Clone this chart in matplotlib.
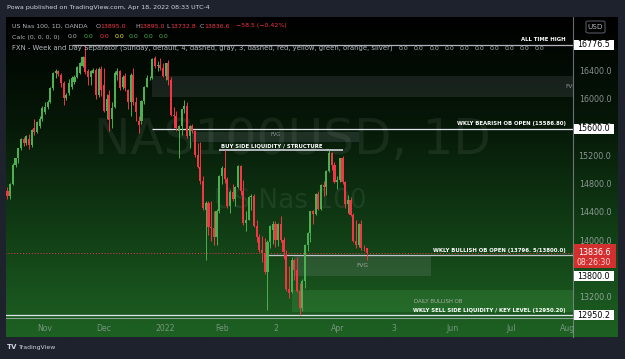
import numpy as np
import pandas as pd
import matplotlib
matplotlib.use("Agg")
import matplotlib.pyplot as plt
from matplotlib.patches import Rectangle, FancyBboxPatch
from matplotlib.lines import Line2D
from matplotlib.colors import LinearSegmentedColormap
from matplotlib import transforms

# ---------------- data ----------------
dates = pd.bdate_range("2021-10-12", "2022-04-18")

opens = [
    14705, 14630, 14800, 15080, 15170, 15310, 15440, 15380, 15440, 15350, 15600, 15540, 15630, 15720,
    15830, 15900, 15970, 16160, 16375, 16400, 16350, 16230, 16020, 16090, 16170, 16250, 16320, 16380, 16480, 16600, 16400, 16320, 16380, 16420, 16060, 16430,
    16200, 15840, 16060, 15720, 15900, 16350, 16400, 16180, 16330, 16130, 15960, 16350, 15960, 15700, 15700, 15980, 16180, 16300, 16310, 16580, 16470, 16490, 16450,
    16330, 16510, 16280, 15780, 15770, 15560, 15620, 15860, 15910, 15490, 15620, 15560, 15210, 15050, 14850, 14440, 14540, 14200, 14190, 14050, 14430,
    14920, 15030, 14870, 14500, 14690, 14590, 14760, 15060, 14710, 14260, 14300, 14620, 14640, 14210, 14060, 13880, 13830, 13560, 13990, 14150,
    14240, 14010, 14240, 14020, 13800, 13320, 13280, 13730, 13590, 13300, 13050, 13440, 13950, 14120, 14420, 14380, 14660, 14450, 14790, 14760, 14990, 15240, 15080,
    14840, 14860, 15170, 14840, 14520, 14580, 14370, 14000, 13950, 14240, 13900, 13895.0,
]
highs = [
    14770, 14820, 15100, 15180, 15320, 15450, 15470, 15500, 15510, 15590, 15720, 15700, 15760, 15910,
    15960, 16000, 16180, 16390, 16430, 16420, 16380, 16260, 16090, 16290, 16330, 16340, 16470, 16530, 16620, 16776.5, 16430, 16420, 16440, 16440, 16460, 16480,
    16450, 16080, 16140, 15970, 16400, 16440, 16420, 16340, 16380, 16150, 16370, 16440, 16030, 15760, 15990, 16190, 16340, 16330, 16580, 16620, 16540, 16580, 16510,
    16520, 16560, 16320, 15900, 15840, 15640, 15870, 15990, 15970, 15640, 15650, 15570, 15380, 15400, 14920, 14560, 14560, 14570, 14430, 14450, 14940,
    15060, 15290, 14900, 14720, 14800, 14780, 15080, 15070, 14860, 14420, 14640, 14660, 14660, 14300, 14100, 14070, 14040, 14010, 14230, 14280,
    14280, 14260, 14360, 14060, 13880, 13640, 13770, 13740, 13780, 13410, 13460, 13960, 14130, 14430, 14440, 14680, 14700, 14800, 14850, 15000, 15285, 15260, 15120,
    14920, 15180, 15200, 14850, 14650, 14620, 14390, 14290, 14260, 14290, 13950, 13895.0,
]
lows = [
    14590, 14600, 14790, 15040, 15100, 15290, 15340, 15350, 15300, 15330, 15500, 15520, 15600, 15700,
    15800, 15870, 15950, 16140, 16300, 16330, 16180, 15920, 15990, 16070, 16150, 16220, 16300, 16360, 16460, 16360, 16200, 16200, 16370, 16010, 16040, 16050,
    15830, 15730, 15560, 15600, 15880, 16280, 16140, 16150, 16120, 15870, 15770, 15920, 15690, 15530, 15650, 15940, 16170, 16280, 16290, 16450, 16400, 16420, 16320,
    16270, 16200, 15760, 15600, 15560, 15170, 15500, 15810, 15460, 15320, 15520, 15190, 15030, 14800, 14440, 13730, 14080, 14000, 13950, 13940, 14400,
    14800, 14820, 14470, 14400, 14570, 14500, 14750, 14650, 14220, 14140, 14290, 14440, 14200, 13980, 13850, 13710, 13540, 13025, 13900, 13960,
    13920, 13930, 13990, 13740, 13290, 13200, 13260, 13450, 13280, 12950, 13010, 13340, 13860, 13980, 14240, 14370, 14440, 14440, 14640, 14650, 14980, 15010, 14820,
    14730, 14840, 14810, 14470, 14390, 14360, 13990, 13900, 13920, 13880, 13860, 13732.8,
]
closes = [
    14630, 14800, 15080, 15170, 15310, 15440, 15380, 15480, 15350, 15570, 15540, 15680, 15720, 15880,
    15900, 15970, 16160, 16375, 16400, 16360, 16230, 16020, 16060, 16240, 16300, 16320, 16460, 16515, 16600, 16390, 16320, 16400, 16420, 16060, 16430, 16130,
    15840, 16010, 15710, 15880, 16380, 16400, 16160, 16320, 16160, 15960, 16340, 15960, 15820, 15640, 15980, 16180, 16300, 16310, 16570, 16480, 16490, 16440, 16330,
    16510, 16280, 15780, 15770, 15600, 15620, 15860, 15910, 15490, 15620, 15560, 15210, 15050, 14850, 14460, 14540, 14200, 14190, 14050, 14430, 14920,
    15030, 14870, 14500, 14690, 14590, 14760, 15060, 14710, 14260, 14300, 14620, 14640, 14210, 14060, 13880, 13830, 13560, 13990, 14210, 14240,
    14010, 14240, 14020, 13840, 13320, 13270, 13730, 13590, 13300, 13050, 13440, 13950, 14120, 14420, 14380, 14660, 14450, 14790, 14760, 14990, 15240, 15080, 14840,
    14860, 15170, 14840, 14520, 14580, 14370, 14000, 13950, 14240, 13900, 13895, 13836.6,
]

# levels / zones drawn on the chart
ath_level = 16776.5
bearish_ob_level = 15586.8
buy_side_level = 15286.0
bullish_ob_level = 13796.5
key_level = 12950.2
last_price = 13836.6
upper_fvg = (16035, 16332)
mid_fvg = (15399, 15541)
lower_fvg = (13505, 13802)
daily_ob = (12996, 13307)

month_labels = ["Nov", "Dec", "2022", "Feb", "2", "Apr", "3", "Jun", "Jul", "Aug"]
month_starts = ["2021-11", "2021-12", "2022-01", "2022-02", "2022-03", "2022-04", "2022-05", "2022-06", "2022-07", "2022-08"]
price_ticks = [16400, 16000, 15600, 15200, 14800, 14400, 14000, 13200]

# ---------------- figure ----------------
W, H, DPI = 625, 359, 100
fig = plt.figure(figsize=(W / DPI, H / DPI), dpi=DPI, facecolor="#1e222d")
FONT = "DejaVu Sans"


def fx(px):
    return px / W


def fy(py):
    return 1 - py / H


# gradient panel background
bg = fig.add_axes([fx(6), fy(337), fx(618) - fx(6), fy(17) - fy(337)])
cmap = LinearSegmentedColormap.from_list("g", ["#000000", "#061808", "#113d15", "#1e6123"])
bg.imshow(np.linspace(0, 1, 256)[:, None], aspect="auto", cmap=cmap, extent=[0, 1, 0, 1], origin="upper")
bg.set_axis_off()

ax = fig.add_axes([fx(6), fy(317), fx(573) - fx(6), fy(17) - fy(317)])
ax.patch.set_alpha(0)
for s in ax.spines.values():
    s.set_visible(False)

calendar = pd.bdate_range("2021-10-12", "2022-08-31")


def idx(d):
    return calendar.get_loc(pd.Timestamp(d))


x = np.arange(len(dates))
ax.set_xlim(-0.55, 211)
ax.set_ylim(12926, 17166)

# watermark
ax.text((292 - 6) / 567, (317 - 140) / 300, "NAS100USD, 1D", transform=ax.transAxes, ha="center", va="center",
        fontsize=35, color="white", alpha=0.07, family=FONT)
ax.text((290 - 6) / 567, (317 - 201) / 300, "US Nas 100", transform=ax.transAxes, ha="center", va="center",
        fontsize=19, color="white", alpha=0.07, family=FONT)

# zones
right_end = 211
ax.add_patch(Rectangle((idx("2021-12-27"), upper_fvg[0]), 400, upper_fvg[1] - upper_fvg[0],
                       fc="#787b86", alpha=0.18, ec="none", zorder=1))
ax.add_patch(Rectangle((idx("2022-01-17"), mid_fvg[0]), idx("2022-04-13") - idx("2022-01-17"), mid_fvg[1] - mid_fvg[0],
                       fc="#787b86", alpha=0.22, ec="none", zorder=1))
ax.add_patch(Rectangle((idx("2022-03-10"), lower_fvg[0]), idx("2022-05-20") - idx("2022-03-10"), lower_fvg[1] - lower_fvg[0],
                       fc="#9aa39a", alpha=0.18, ec="none", zorder=1))
ax.add_patch(Rectangle((idx("2022-03-09"), daily_ob[0]), 400, daily_ob[1] - daily_ob[0],
                       fc="#4caf50", alpha=0.22, ec="none", zorder=1))

# horizontal levels
ax.hlines(ath_level, idx("2021-11-15"), right_end, color="#b2b5be", lw=0.9, zorder=2)
ax.hlines(bearish_ob_level, idx("2021-12-27"), right_end, color="#e0e3eb", lw=0.9, zorder=2)
ax.hlines(buy_side_level, idx("2022-01-31"), idx("2022-04-05"), color="#c0c3cb", lw=1.3, zorder=2)
ax.hlines(bullish_ob_level, idx("2022-02-24"), right_end, color="#c0c3cb", lw=0.9, zorder=2)
ax.hlines(key_level, -1, right_end, color="#e0e3eb", lw=0.9, zorder=2)
ax.hlines(last_price, -1, right_end, color="#f23645", lw=0.7, linestyles=(0, (1, 2)), zorder=2)

# candles
up = np.array(closes) >= np.array(opens)
col = np.where(up, "#4caf50", "#f23645")
ax.vlines(x, lows, highs, colors=col, lw=0.7, zorder=3)
bottoms = np.minimum(opens, closes)
heights = np.maximum(np.abs(np.array(closes) - np.array(opens)), 8)
ax.bar(x, heights, bottom=bottoms, width=0.78, color=col, lw=0, zorder=4)

# zone / level labels
tr = transforms.blended_transform_factory(ax.transAxes, ax.transData)
lab = dict(family=FONT, fontsize=3.9, fontweight="bold", color="white", zorder=5)
rx = (566 - 6) / 567
lx = (414 - 6) / 567
ax.annotate("ALL TIME HIGH", (rx, ath_level), xycoords=tr, xytext=(0, 2), textcoords="offset points",
            ha="right", va="bottom", **lab)
ax.annotate("WKLY BEARISH OB OPEN (15586.80)", (rx, bearish_ob_level), xycoords=tr, xytext=(0, 2),
            textcoords="offset points", ha="right", va="bottom", **lab)
ax.annotate("WKLY BULLISH OB OPEN (13796. 5/13800.0)", (rx, bullish_ob_level), xycoords=tr, xytext=(0, 2),
            textcoords="offset points", ha="right", va="bottom", **lab)
ax.annotate("BUY SIDE LIQUIDITY / STRUCTURE", (idx("2022-01-31"), buy_side_level), xytext=(1, 1.2),
            textcoords="offset points", ha="left", va="bottom", **lab)
ax.annotate("WKLY SELL SIDE LIQUIDITY / KEY LEVEL (12950.20)", (rx, key_level), xycoords=tr, xytext=(0, 2),
            textcoords="offset points", ha="right", va="bottom", **lab)
ax.text(lx, sum(daily_ob) / 2, "DAILY BULLISH OB", transform=tr, ha="left", va="center",
        family=FONT, fontsize=3.9, color="#a5b0a5", zorder=5)
ax.text(210.4, sum(upper_fvg) / 2, "FVG", ha="center", va="center", family=FONT, fontsize=4.2,
        color="#8f949c", zorder=5, clip_on=True)
ax.annotate("FVG", ((idx("2022-01-17") + idx("2022-04-13")) / 2, sum(mid_fvg) / 2), xytext=(0, 2),
            textcoords="offset points", ha="center", va="center", family=FONT, fontsize=3.6,
            color="#8f949c", zorder=5)
ax.text((idx("2022-03-10") + idx("2022-05-20")) / 2, sum(lower_fvg) / 2, "FVG", ha="center", va="center",
        family=FONT, fontsize=4.2, color="#a0a8a0", zorder=5)

# x axis
tick_pos = [int(np.argmax(calendar.strftime("%Y-%m") == m)) for m in month_starts]
ax.set_xticks(tick_pos)
ax.set_xticklabels(month_labels, family=FONT, fontsize=5.6, color=(0.75, 0.77, 0.8, 0.55))
ax.tick_params(axis="x", length=0, pad=5)
ax.set_yticks([])

# price axis
fig.add_artist(Line2D([fx(573), fx(573)], [fy(17), fy(337)], color="#9598a1", lw=0.8, alpha=0.7))
fig.add_artist(Line2D([fx(6), fx(573)], [fy(317.5), fy(317.5)], color="#d1d4dc", lw=0.8, alpha=0.6))
ptr = transforms.blended_transform_factory(fig.transFigure, ax.transData)
for p in price_ticks:
    ax.text(fx(595), p, f"{p:.1f}", transform=ptr, ha="center", va="center", family=FONT,
            fontsize=5.8, color=(0.75, 0.77, 0.8, 0.7), clip_on=False)


def price_box(price, text, fc="white", tc="black", dy_px=0, h_px=10):
    yf = fig.transFigure.inverted().transform(ax.transData.transform((0, price)))[1] - dy_px / H
    fig.add_artist(Rectangle((fx(573.5), yf - h_px / 2 / H), 40 / W, h_px / H, transform=fig.transFigure,
                             fc=fc, ec="none", zorder=6))
    fig.text(fx(593.5), yf, text, ha="center", va="center", family=FONT, fontsize=5.8, color=tc, zorder=7)


price_box(ath_level, "16776.5")
price_box(bearish_ob_level, "15600.0")
price_box(13800, "13800.0", dy_px=21)
price_box(key_level, "12950.2")
# last price red tag
yl = fig.transFigure.inverted().transform(ax.transData.transform((0, last_price)))[1]
fig.add_artist(Rectangle((fx(573.5), yl - 15 / H), 42 / W, 24 / H, transform=fig.transFigure,
                         fc="#d32f2f", ec="none", zorder=6))
fig.text(fx(594), yl, "13836.6", ha="center", va="center", family=FONT, fontsize=5.8, color="white", zorder=7)
fig.text(fx(594), yl - 10 / H, "08:26:30", ha="center", va="center", family=FONT, fontsize=5.6,
         color="#ffd7d7", zorder=7)

# USD box
fig.add_artist(FancyBboxPatch((fx(586), fy(33)), 19 / W, 12 / H, boxstyle="round,pad=0,rounding_size=0.004",
                              transform=fig.transFigure, fc="none", ec="#5d606b", lw=0.7))
fig.text(fx(595.5), fy(27), "USD", ha="center", va="center", family=FONT, fontsize=5.2, color="#b2b5be")

# header texts
fig.text(fx(7), fy(8), "Powa published on TradingView.com, Apr 18, 2022 08:33 UTC-4", ha="left", va="center",
         family=FONT, fontsize=4.6, color="#d1d4dc")
hdr = dict(ha="left", va="center", family=FONT, fontsize=4.5)
gry = "#b2b5be"
red = "#f23645"
y1 = fy(26)
fig.text(fx(12), y1, "US Nas 100, 1D, OANDA", color=gry, **hdr)
for xp, t, c in [(96, "O", gry), (100, "13895.0", red), (135, "H", gry), (139.5, "13895.0", red),
                 (166.5, "L", gry), (170, "13732.8", red), (200, "C", gry), (204.5, "13836.6", red),
                 (236, "\u221258.5 (\u22120.42%)", red)]:
    fig.text(fx(xp), y1, t, color=c, **hdr)
y2 = fy(37)
fig.text(fx(12), y2, "Calc (0, 0, 0, 0)", color=gry, **hdr)
for xp, c in [(68, gry), (84, "#4caf50"), (100, red), (115, "#ffeb3b"), (129, "#4caf50"),
              (144, "#4caf50"), (159, "#4caf50")]:
    fig.text(fx(xp), y2, "0.0", color=c, **hdr)
y3 = fy(48)
fig.text(fx(12), y3, "FXN - Week and Day Separator (Sunday, default, 4, dashed, gray, 3, dashed, red, yellow, "
         "green, orange, silver)", color=gry, ha="left", va="center", family=FONT, fontsize=4.95)
for i in range(10):
    fig.text(fx(399 + 15.1 * i), y3, "0.0", color=gry, **hdr)

# footer logo
fig.text(fx(6.5), fy(347), "TV", ha="left", va="center", family=FONT, fontsize=5.0, fontweight="bold", color="#d1d4dc")
fig.text(fx(18.5), fy(347), "TradingView", ha="left", va="center", family=FONT, fontsize=4.4, color="#d1d4dc")

fig.savefig("out.png", dpi=DPI, facecolor=fig.get_facecolor())
